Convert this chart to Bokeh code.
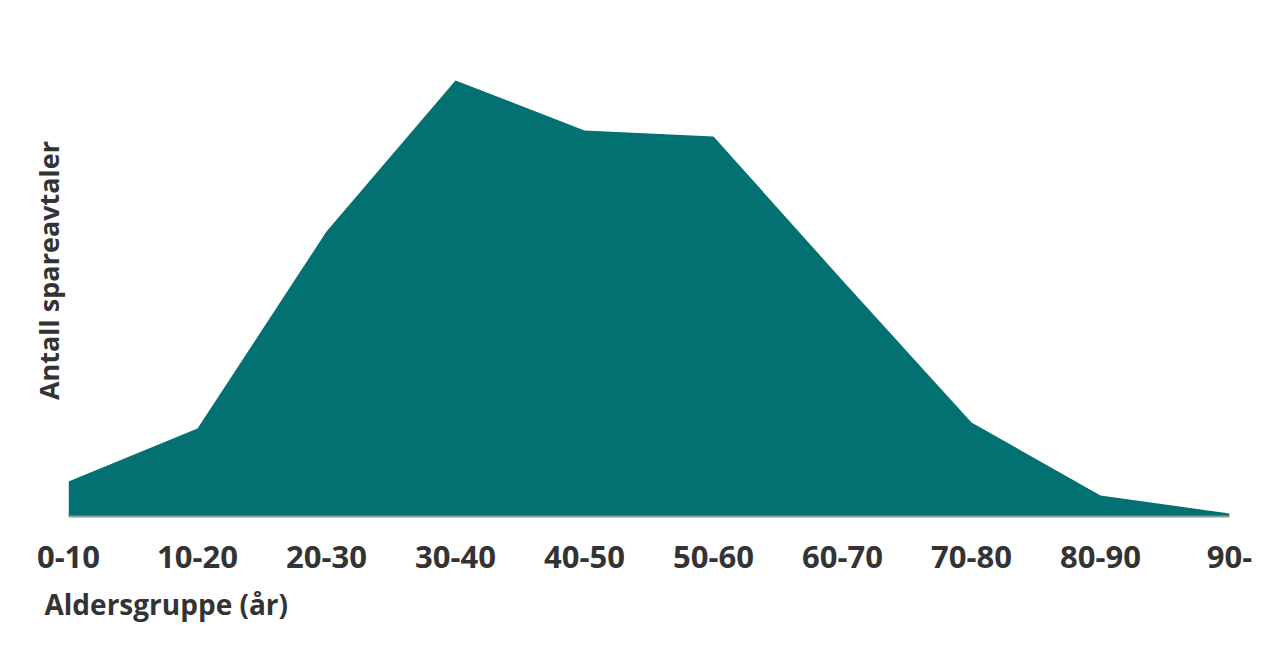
from bokeh.plotting import figure
from bokeh.models import Range1d, FixedTicker, Title
from bokeh.embed import file_html
from bokeh.resources import INLINE

age_groups = ["0-10", "10-20", "20-30", "30-40", "40-50", "50-60", "60-70", "70-80", "80-90", "90-"]
agreements = [35, 88, 285, 436, 386, 380, 236, 94, 21, 3]

xs = list(range(len(age_groups)))

FONT = "Open Sans"
TEXT = "#333333"
FILL = "#037171"

p = figure(width=1268, height=640, output_backend="svg", toolbar_location=None,
           x_range=Range1d(0, len(age_groups) - 1), y_range=Range1d(0, 492),
           min_border_left=68, min_border_right=39, min_border_top=24, min_border_bottom=124)
p.outline_line_color = None
p.grid.visible = False
p.background_fill_color = "white"
p.border_fill_color = "white"

p.varea(x=xs, y1=[0] * len(xs), y2=agreements, fill_color=FILL)

xa = p.xaxis[0]
xa.ticker = FixedTicker(ticks=xs)
xa.major_label_overrides = {i: lab for i, lab in enumerate(age_groups)}
xa.major_label_text_font = FONT
xa.major_label_text_font_style = "bold"
xa.major_label_text_font_size = "31px"
xa.major_label_text_color = TEXT
xa.major_label_standoff = 23
xa.major_tick_line_color = None
xa.minor_tick_line_color = None
xa.axis_line_color = "#8c9b9b"
xa.axis_line_width = 2

ya = p.yaxis[0]
ya.ticker = FixedTicker(ticks=[])
ya.axis_label = "Antall spareavtaler"
ya.axis_label_text_font = FONT
ya.axis_label_text_font_style = "bold"
ya.axis_label_text_font_size = "27px"
ya.axis_label_text_color = TEXT
ya.axis_label_standoff = 2
ya.major_label_standoff = 0
ya.major_tick_line_color = None
ya.minor_tick_line_color = None
ya.major_tick_out = 0
ya.axis_line_color = None

p.add_layout(Title(text="Aldersgruppe (år)", align="left", offset=-24,
                   text_font=FONT, text_font_style="bold", text_font_size="28px",
                   text_color=TEXT, standoff=25), "below")

open("out.html", "w").write(file_html(p, INLINE))
